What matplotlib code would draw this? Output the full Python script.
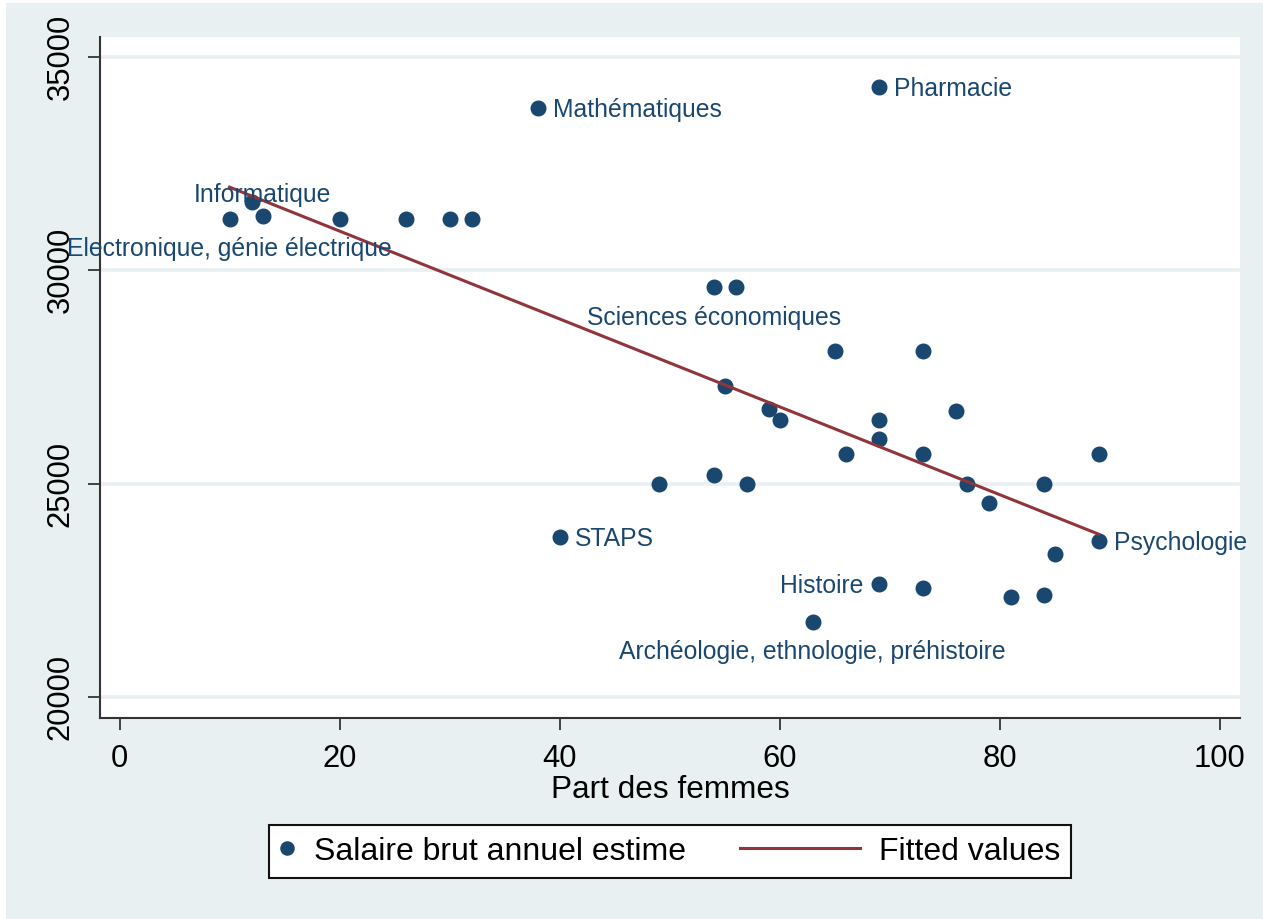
"""Salaire brut annuel estimé vs part des femmes, par discipline (style Stata s2color)."""
import matplotlib
matplotlib.use("Agg")
import matplotlib.pyplot as plt  # noqa: E402
from matplotlib.legend_handler import HandlerLine2D  # noqa: E402
from matplotlib.lines import Line2D  # noqa: E402
from matplotlib.patches import Rectangle  # noqa: E402

plt.rcParams["font.family"] = ["Liberation Sans", "DejaVu Sans"]

# --- data --------------------------------------------------------------------
part_femmes = [10, 12, 13, 20, 26, 30, 32, 38, 54, 56, 69, 65, 73, 55, 59, 60, 76, 69,
               69, 66, 73, 89, 49, 54, 57, 77, 84, 79, 40, 89, 85, 69, 73, 81, 84, 63]
salaire = [31200, 31600, 31270, 31200, 31200, 31200, 31200, 33800, 29600, 29600, 34300,
           28100, 28100, 27300, 26750, 26500, 26700, 26500, 26050, 25700, 25700, 25700,
           25000, 25200, 25000, 25000, 25000, 24550, 23750, 23650, 23350, 22650, 22550,
           22350, 22400, 21750]
# discipline label and Stata clock position (3 right, 9 left, 6 below, 12 above)
labelled = {
    0: ("Electronique, génie électrique", 6),
    2: ("Informatique", 12),
    7: ("Mathématiques", 3),
    8: ("Sciences économiques", 6),
    10: ("Pharmacie", 3),
    28: ("STAPS", 3),
    29: ("Psychologie", 3),
    31: ("Histoire", 9),
    35: ("Archéologie, ethnologie, préhistoire", 6),
}
fit_x = [10, 89]
fit_y = [31950, 23815]

xticks = [0, 20, 40, 60, 80, 100]
yticks = [20000, 25000, 30000, 35000]

BG = "#e8f0f2"
NAVY = "#1a476f"
MAROON = "#90353b"

OFFSETS = {3: ((11, -6.4), "left"), 9: ((-11, -6.4), "right"),
           6: ((0, -26.8), "center"), 12: ((0, 10.2), "center")}


class LongLine(HandlerLine2D):
    """Legend line that reaches left past its (narrow) handle box, like Stata's."""

    def create_artists(self, legend, orig_handle, xdescent, ydescent, width, height,
                       fontsize, trans):
        x1 = -xdescent + width
        y = (height - ydescent) / 2
        line = Line2D([x1 - width * 8.3, x1], [y, y])
        self.update_prop(line, orig_handle, legend)
        line.set_marker("")
        line.set_transform(trans)
        return [line]


def main() -> None:
    fig = plt.figure(figsize=(12.63, 9.19), dpi=100)
    fig.patch.set_facecolor("white")
    fig.patches.append(Rectangle((6 / 1263, 0), 1, 1 - 3 / 919, transform=fig.transFigure,
                                 facecolor=BG, edgecolor="none", zorder=-10))
    ax = fig.add_axes([100 / 1263, 1 - 718 / 919, 1140 / 1263, 681 / 919])
    ax.set_facecolor("white")

    ax.set_xlim(-1.78, 101.85)
    ax.set_ylim(19506, 35470)
    ax.set_xticks(xticks)
    ax.set_yticks(yticks)
    ax.set_yticklabels([str(v) for v in yticks], rotation=90, va="center")
    ax.grid(True, axis="y", color=BG, lw=2.6)
    ax.set_axisbelow(True)

    for side in ("top", "right"):
        ax.spines[side].set_visible(False)
    for side in ("left", "bottom"):
        ax.spines[side].set_color("#333333")
        ax.spines[side].set_linewidth(1.5)
    ax.tick_params(axis="both", length=8.6, width=1.3, color="#333333", labelsize=22.3)
    ax.tick_params(axis="x", pad=10)
    ax.tick_params(axis="y", pad=9)

    ax.plot(part_femmes, salaire, "o", color=NAVY, ms=10.5, mec=NAVY, zorder=3,
            label="Salaire brut annuel estime")
    ax.plot(fit_x, fit_y, "-", color=MAROON, lw=2.2, zorder=4, label="Fitted values")

    for i, (name, pos) in labelled.items():
        off, ha = OFFSETS[pos]
        ax.annotate(name, (part_femmes[i], salaire[i]), xytext=off, textcoords="offset points",
                    ha=ha, va="baseline", fontsize=17.8, color=NAVY, zorder=5)

    ax.set_xlabel("Part des femmes", fontsize=22.7, labelpad=0.5)

    handles, names = ax.get_legend_handles_labels()
    leg = fig.legend(handles, names, loc="center", bbox_to_anchor=(670 / 1263, 1 - 851.5 / 919),
                     ncol=2, fontsize=23, frameon=True, fancybox=False, borderpad=0.35,
                     handlelength=0.45, handletextpad=0.6, columnspacing=5.0,
                     handler_map={handles[1]: LongLine()}, numpoints=1, markerscale=0.9)
    frame = leg.get_frame()
    frame.set_edgecolor("#111111")
    frame.set_linewidth(1.5)
    frame.set_facecolor("white")
    frame.set_alpha(1)

    fig.savefig("out.png", dpi=100)


if __name__ == "__main__":
    main()
